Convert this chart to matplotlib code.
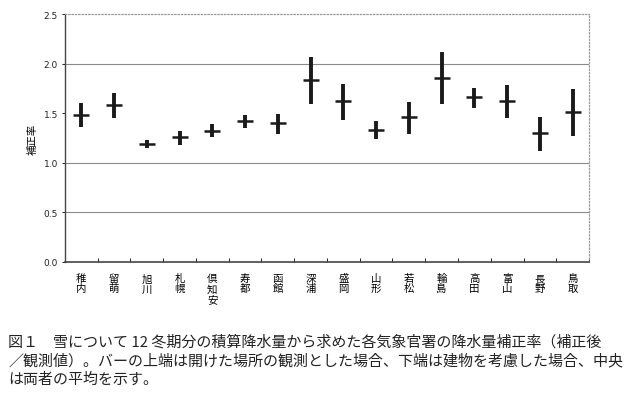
import matplotlib.pyplot as plt
import numpy as np

plt.rcParams['font.family'] = ['Noto Sans CJK JP', 'DejaVu Sans']

# stations and correction ratios (upper: open site, lower: building considered, mid: mean)
stations = ['稚内', '留萌', '旭川', '札幌', '倶知安', '寿都', '函館', '深浦',
            '盛岡', '山形', '若松', '輪島', '高田', '富山', '長野', '鳥取']
upper = [1.60, 1.70, 1.23, 1.32, 1.39, 1.48, 1.49, 2.07,
         1.79, 1.42, 1.61, 2.12, 1.75, 1.78, 1.46, 1.74]
lower = [1.36, 1.45, 1.15, 1.18, 1.26, 1.35, 1.29, 1.59,
         1.43, 1.24, 1.29, 1.59, 1.55, 1.45, 1.12, 1.27]
mid = [1.48, 1.58, 1.19, 1.26, 1.32, 1.42, 1.40, 1.84,
       1.62, 1.33, 1.46, 1.86, 1.66, 1.62, 1.30, 1.51]

caption = ['図１　雪について 12 冬期分の積算降水量から求めた各気象官署の降水量補正率（補正後',
           '／観測値）。バーの上端は開けた場所の観測とした場合、下端は建物を考慮した場合、中央',
           'は両者の平均を示す。']

fig = plt.figure(figsize=(6.24, 4.10), dpi=100)
ax = fig.add_axes([0.104, 0.359, 0.84, 0.604])

x = np.arange(len(stations))
ax.vlines(x, lower, upper, color='#1a1a1a', linewidth=2.8, zorder=3)
ax.plot(x, mid, linestyle='none', marker='_', markersize=11, markeredgewidth=1.8,
        color='#1a1a1a', zorder=4)

for g in [0.5, 1.0, 2.0]:
    ax.axhline(g, color='#8a8a8a', linewidth=0.8, zorder=1)

ax.set_xlim(-0.5, len(stations) - 0.5)
ax.set_ylim(0, 2.5)
ax.set_yticks([0, 0.5, 1.0, 1.5, 2.0, 2.5])
ax.set_yticklabels(['0.0', '0.5', '1.0', '1.5', '2.0', '2.5'], fontsize=6.5,
                   family='DejaVu Sans', color='#222222')
ax.tick_params(axis='y', direction='out', length=2, width=0.6, pad=3)

# boundary ticks inside, labels at centres
ax.set_xticks(np.arange(len(stations) + 1) - 0.5)
ax.set_xticklabels([])
ax.tick_params(axis='x', which='major', direction='in', length=3, width=0.6)
ax.set_xticks(x, minor=True)
ax.set_xticklabels(['\n'.join(s) for s in stations], minor=True, fontsize=7.5,
                   linespacing=1.05, va='top')
ax.tick_params(axis='x', which='minor', length=0, pad=8)

ax.spines['left'].set_color('#444444')
ax.spines['bottom'].set_color('#444444')
ax.spines['bottom'].set_linewidth(1.2)
ax.spines['left'].set_linewidth(1.0)
for s in ['top', 'right']:
    ax.spines[s].set_color('#999999')
    ax.spines[s].set_linestyle(':')
    ax.spines[s].set_linewidth(0.9)

ax.set_ylabel('補正率', fontsize=7.5, labelpad=4)

for i, line in enumerate(caption):
    fig.text(0.013, 1 - (342 + 19 * i) / 410, line, fontsize=10.8, va='center', ha='left',
             color='#222222')

fig.savefig('out.png', dpi=100)
